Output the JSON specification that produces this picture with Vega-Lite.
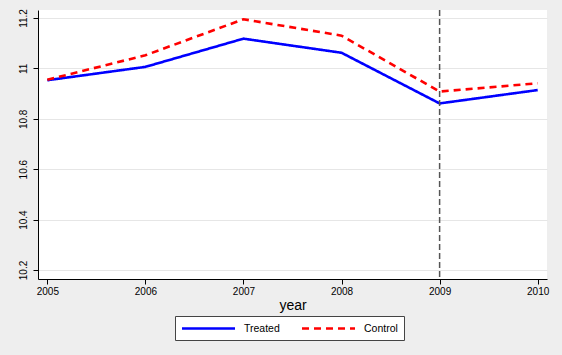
{
  "$schema": "https://vega.github.io/schema/vega-lite/v6.json",
  "width": 509,
  "height": 269,
  "autosize": "none",
  "padding": {"left": 38, "top": 10, "right": 15, "bottom": 76},
  "background": "#eeeeee",
  "config": {
    "font": "Liberation Sans",
    "view": {"fill": "white", "stroke": null},
    "axis": {"domainColor": "black", "tickColor": "black", "labelColor": "black", "titleColor": "black", "gridColor": "#e6e6e6", "gridWidth": 1, "labelFont": "Liberation Sans", "titleFont": "Liberation Sans"}
  },
  "datasets": {
    "series": [
      {"year": 2005, "group": "Treated", "value": 10.953},
      {"year": 2006, "group": "Treated", "value": 11.006},
      {"year": 2007, "group": "Treated", "value": 11.118},
      {"year": 2008, "group": "Treated", "value": 11.062},
      {"year": 2009, "group": "Treated", "value": 10.861},
      {"year": 2010, "group": "Treated", "value": 10.914},
      {"year": 2005, "group": "Control", "value": 10.955},
      {"year": 2006, "group": "Control", "value": 11.052},
      {"year": 2007, "group": "Control", "value": 11.195},
      {"year": 2008, "group": "Control", "value": 11.13},
      {"year": 2009, "group": "Control", "value": 10.908},
      {"year": 2010, "group": "Control", "value": 10.941}
    ],
    "marker": [{"year": 2009}]
  },
  "layer": [
    {
      "data": {"name": "series"},
      "mark": {"type": "line", "strokeWidth": 2.6, "strokeCap": "butt", "clip": true},
      "encoding": {
        "x": {
          "field": "year", "type": "quantitative",
          "scale": {"domain": [2004.905, 2010.095], "nice": false, "zero": false},
          "axis": {"values": [2005, 2006, 2007, 2008, 2009, 2010], "format": "d", "grid": false, "tickSize": 5, "labelPadding": 2, "labelFontSize": 10, "title": "year", "titleFontSize": 14, "titleFontWeight": "normal", "titlePadding": 2, "labelFlush": false}
        },
        "y": {
          "field": "value", "type": "quantitative",
          "scale": {"domain": [10.1643, 11.2317], "nice": false, "zero": false},
          "axis": {"values": [10.2, 10.4, 10.6, 10.8, 11, 11.2], "format": ".1~f", "grid": true, "tickSize": 5, "labelAngle": -90, "labelAlign": "center", "labelBaseline": "bottom", "labelPadding": 5, "labelFontSize": 10, "title": null}
        },
        "color": {
          "field": "group", "type": "nominal",
          "scale": {"domain": ["Treated", "Control"], "range": ["#0000ff", "#ff0000"]},
          "legend": {
            "title": null, "orient": "none", "direction": "horizontal", "legendX": 137, "legendY": 306,
            "fillColor": "white", "strokeColor": "#444444", "padding": 6,
            "symbolType": "M-5.3,0H5.3", "symbolSize": 100, "symbolStrokeWidth": 2.6, "symbolFillColor": "transparent", "symbolOffset": 21,
            "labelFontSize": 10.5, "labelOffset": 29, "columnPadding": 16, "labelColor": "black"
          }
        },
        "strokeDash": {
          "field": "group", "type": "nominal",
          "scale": {"domain": ["Treated", "Control"], "range": [[1, 0], [7, 5]]},
          "legend": {
            "title": null, "orient": "none", "direction": "horizontal", "legendX": 137, "legendY": 306,
            "fillColor": "white", "strokeColor": "#444444", "padding": 6,
            "symbolType": "M-5.3,0H5.3", "symbolSize": 100, "symbolStrokeWidth": 2.6, "symbolFillColor": "transparent", "symbolOffset": 21,
            "labelFontSize": 10.5, "labelOffset": 29, "columnPadding": 16, "labelColor": "black"
          }
        }
      }
    },
    {
      "data": {"name": "marker"},
      "mark": {"type": "rule", "color": "#555555", "strokeWidth": 1.5, "strokeDash": [6, 3]},
      "encoding": {"x": {"field": "year", "type": "quantitative"}}
    }
  ]
}
